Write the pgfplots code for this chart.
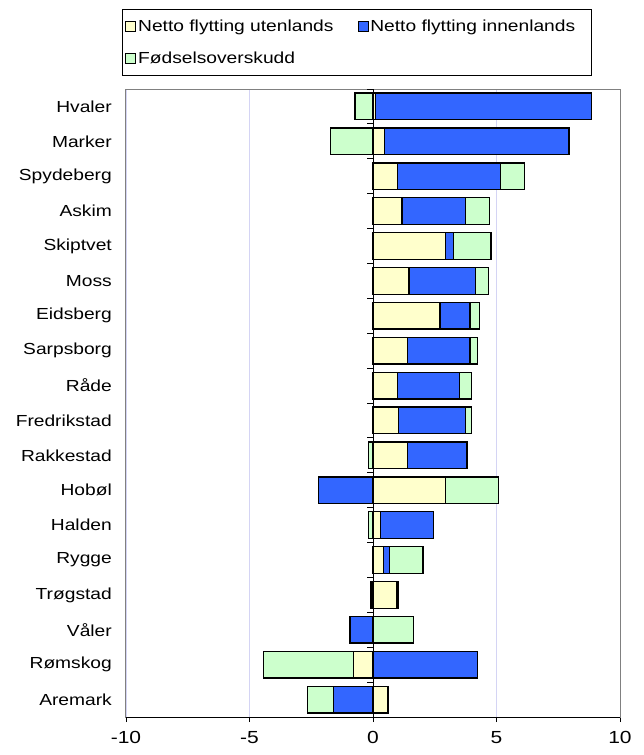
\documentclass[border=0pt]{standalone}
\usepackage{fontspec}
\setmainfont{Liberation Sans}[FakeStretch=1.2]
\usepackage{pgfplots}
\pgfplotsset{compat=1.18}

\definecolor{cyel}{HTML}{FFFFCC}
\definecolor{cblu}{HTML}{3366FF}
\definecolor{cgrn}{HTML}{CCFFCC}
\definecolor{cgrid}{HTML}{D4D4F4}

\begin{document}
\begin{tikzpicture}
\fontsize{16}{19}\selectfont
\useasboundingbox (-126pt,-38pt) rectangle (518pt,717pt);
\begin{axis}[
	scale only axis,
	width=494pt, height=628pt,
	xmin=-10, xmax=10,
	ymin=-0.5, ymax=17.5,
	y dir=reverse,
	xtick={-10,-5,0,5,10},
	xticklabels={-10,-5,0,5,10},
	ytick={0,...,17},
	yticklabels={Hvaler,Marker,Spydeberg,Askim,Skiptvet,Moss,Eidsberg,Sarpsborg,Råde,Fredrikstad,Rakkestad,Hobøl,Halden,Rygge,Trøgstad,Våler,Rømskog,Aremark},
	xtick pos=bottom, ytick pos=left,
	tick align=outside,
	major tick length=5pt,
	y tick style={draw=none},
	x tick style={black, line width=0.8pt},
	yticklabel style={inner sep=0pt, xshift=-9pt, font=\fontsize{16}{19}\selectfont},
	xticklabel style={inner sep=0pt, yshift=-9pt, font=\fontsize{17.5}{20}\selectfont},
	xmajorgrids,
	grid style={cgrid, line width=0.8pt},
	axis line style={gray, line width=1pt},
	xbar, bar shift=0pt, bar width=26.7pt,
	every axis plot/.append style={draw=black, line width=1.3pt},
	legend columns=2,
	legend style={at={(-0.008,1.127)}, anchor=north west, draw=black, line width=0.7pt,
		inner xsep=3pt, inner ysep=8pt, row sep=14pt,
		/tikz/every even column/.append style={column sep=22pt},
		font=\fontsize{16}{19}\selectfont},
	legend cell align=left,
	legend image code/.code={\draw[#1, line width=0.8pt] (0pt,-5pt) rectangle (10pt,5pt);},
]
% positive side, drawn outermost first (cumulative sums)
\addplot[fill=cgrn, forget plot] coordinates {
	(8.85,0) (7.93,1) (6.14,2) (4.73,3) (4.78,4) (4.67,5) (4.30,6) (4.23,7) (3.98,8)
	(3.98,9) (3.81,10) (5.09,11) (2.45,12) (2.03,13) (1.03,14) (1.65,15) (4.23,16) (0.61,17)};
\addplot[fill=cblu, forget plot] coordinates {
	(8.85,0) (7.93,1) (5.16,2) (3.74,3) (3.25,4) (4.16,5) (3.93,6) (3.93,7) (3.51,8)
	(3.74,9) (3.81,10) (2.93,11) (2.45,12) (0.66,13) (1.03,14) (4.23,16) (0.61,17)};
\addplot[fill=cyel, forget plot] coordinates {
	(0.11,0) (0.47,1) (0.98,2) (1.17,3) (2.93,4) (1.46,5) (2.71,6) (1.41,7) (0.98,8)
	(1.03,9) (1.41,10) (2.93,11) (0.30,12) (0.42,13) (0.97,14) (0.61,17)};
% negative side
\addplot[fill=cgrn, forget plot] coordinates {
	(-0.73,0) (-1.73,1) (-0.18,10) (-2.21,11) (-0.19,12) (-0.08,14) (-0.93,15) (-4.42,16) (-2.64,17)};
\addplot[fill=cblu, forget plot] coordinates {
	(-2.21,11) (-0.93,15) (-0.78,16) (-1.61,17)};
\addplot[fill=cyel, forget plot] coordinates {
	(-0.78,16)};

\addlegendimage{fill=cyel, draw=black}
\addlegendentry{Netto flytting utenlands}
\addlegendimage{fill=cblu, draw=black}
\addlegendentry{Netto flytting innenlands\hspace*{11pt}}
\addlegendimage{fill=cgrn, draw=black}
\addlegendentry{Fødselsoverskudd}

% category axis at zero and bottom axis line
\draw[black, line width=1pt] (axis cs:0,-0.5) -- (axis cs:0,17.5);
\pgfplotsinvokeforeach{-0.5,0.5,...,17.5}{
	\draw[black, line width=1pt] (axis cs:0,#1) -- (axis cs:-0.25,#1);
}
\draw[black, line width=1pt] (axis cs:-10,17.5) -- (axis cs:10,17.5);
\end{axis}
\end{tikzpicture}
\end{document}
